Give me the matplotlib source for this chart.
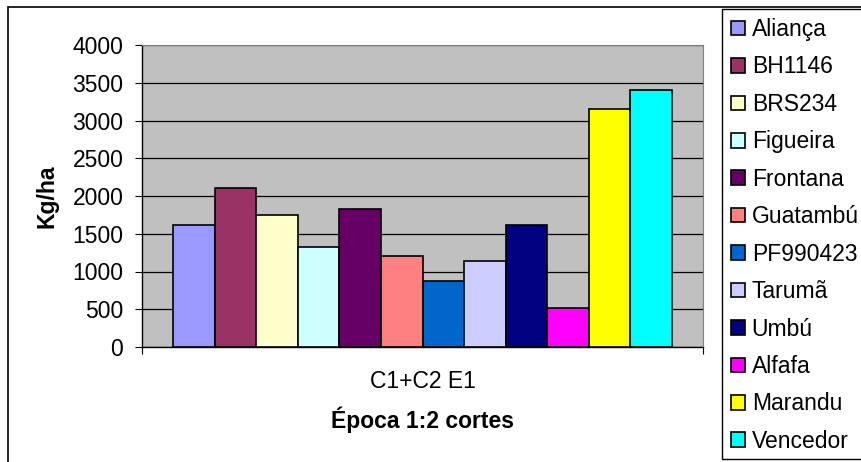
import matplotlib.pyplot as plt
from matplotlib.patches import Rectangle
import numpy as np

plt.rcParams["font.family"] = ["Liberation Sans", "DejaVu Sans"]

cultivares = ["Aliança", "BH1146", "BRS234", "Figueira", "Frontana", "Guatambú",
              "PF990423", "Tarumã", "Umbú", "Alfafa", "Marandu", "Vencedor"]
producao = [1610, 2105, 1750, 1325, 1825, 1210, 875, 1135, 1610, 520, 3150, 3405]
cores = ["#9999FF", "#993366", "#FFFFCC", "#CCFFFF", "#660066", "#FF8080",
         "#0066CC", "#CCCCFF", "#000080", "#FF00FF", "#FFFF00", "#00FFFF"]
grupo = "C1+C2 E1"
yticks = [0, 500, 1000, 1500, 2000, 2500, 3000, 3500, 4000]

fs = 16.5

fig = plt.figure(figsize=(8.61, 4.62), dpi=100)
ax = fig.add_axes([142 / 861, 1 - 347 / 462, 561 / 861, 302 / 462])
ax.set_facecolor("#C0C0C0")

# barras lado a lado dentro de uma unica categoria (gap de 150%)
largura = 1 / 13.5
n = len(producao)
pos = (np.arange(n) - (n - 1) / 2) * largura
for x, v, c, nome in zip(pos, producao, cores, cultivares):
    ax.bar(x, v, width=largura, color=c, edgecolor="black", linewidth=1.2,
           label=nome, zorder=3)

ax.set_xlim(-0.5, 0.5)
ax.set_ylim(0, 4000)
ax.set_yticks(yticks)
ax.yaxis.grid(True, color="black", linewidth=0.9, zorder=1)
ax.set_axisbelow(True)
ax.tick_params(axis="y", labelsize=fs, length=5, width=0.8, pad=8.5)

ax.set_xticks([0])
ax.set_xticklabels([grupo], fontsize=fs)
ax.tick_params(axis="x", which="major", length=0, pad=16.5)
ax.set_xticks([-0.5, 0.5], minor=True)
ax.tick_params(axis="x", which="minor", length=5, width=0.8)

for lado in ["top", "right"]:
    ax.spines[lado].set_color("#808080")
for lado in ["left", "bottom"]:
    ax.spines[lado].set_color("black")
    ax.spines[lado].set_linewidth(1.0)

ax.set_xlabel("Época 1:2 cortes", fontsize=fs, fontweight="bold", labelpad=10)
ax.set_ylabel("Kg/ha", fontsize=fs, fontweight="bold")
ax.yaxis.set_label_coords(-0.148, 0.5)

# moldura externa e caixa da legenda
fig.add_artist(Rectangle((8 / 861, -0.1), 1.2, 1 - 7 / 462 + 0.1,
                         transform=fig.transFigure, fill=False,
                         edgecolor="black", linewidth=1.2))
fig.add_artist(Rectangle((722 / 861, 1 - 459 / 462), 0.3, 450 / 462,
                         transform=fig.transFigure, facecolor="white",
                         edgecolor="black", linewidth=1.0, zorder=2))

leg = fig.legend(loc="upper left", bbox_to_anchor=(731 / 861, 1 - 18 / 462),
                 frameon=False, fontsize=fs, handlelength=0.6,
                 handleheight=0.6, handletextpad=0.3, labelspacing=0.63,
                 borderpad=0, borderaxespad=0)
leg.set_zorder(3)

fig.savefig("out.png", dpi=100)
